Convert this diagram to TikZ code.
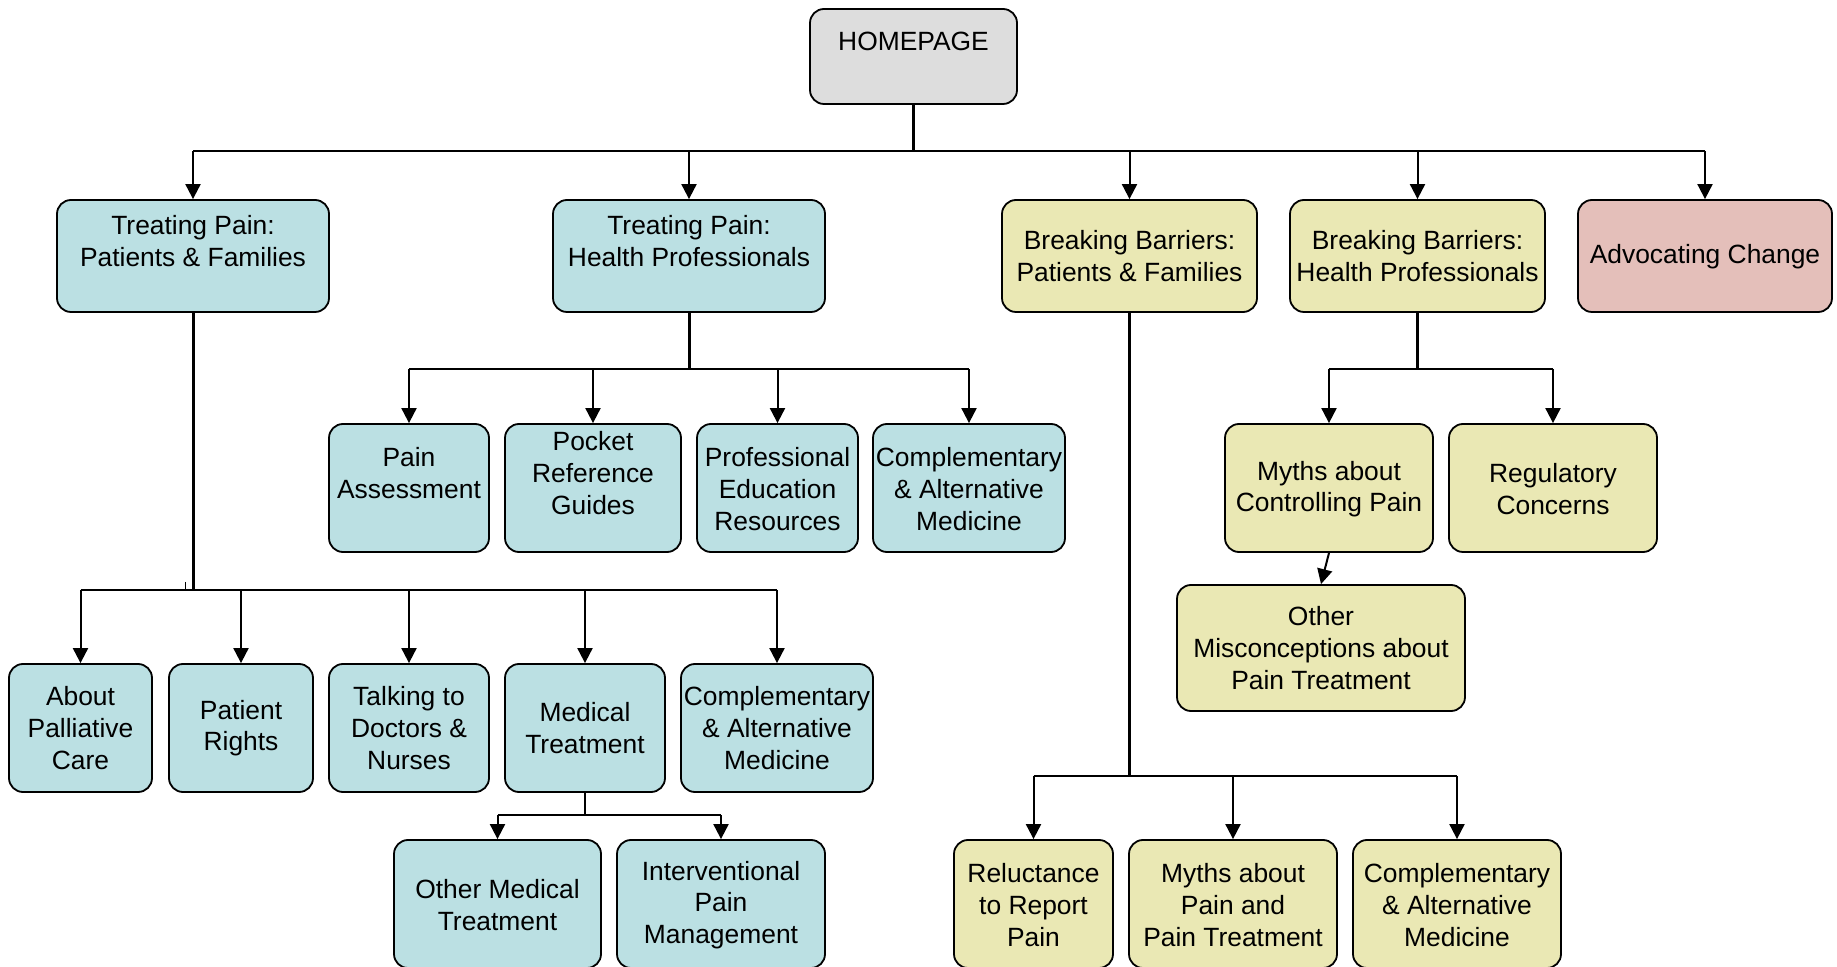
\documentclass[tikz,border=0pt]{standalone}
\usepackage{fontspec}
\setmainfont{Liberation Sans}
\usetikzlibrary{arrows.meta}
\definecolor{tealbox}{RGB}{187,224,227}
\definecolor{yellowbox}{RGB}{234,232,180}
\definecolor{pinkbox}{RGB}{228,191,186}
\definecolor{graybox}{RGB}{221,221,221}
\newcommand{\mkbox}[8]{%
  \node[box,fill=#2,minimum width=#5*0.5pt,minimum height=#6*0.5pt] (#1) at (#3,#4) {};
  \node[txt] (#1-t) at (#3,#7) {#8};}
\begin{document}
\begin{tikzpicture}[x=0.5pt,y=-0.5pt,
  box/.style={draw=black, line width=0.9pt, rounded corners=7pt, inner sep=0pt},
  txt/.style={align=center, font=\fontsize{13.2}{15.8}\selectfont, inner sep=0pt},
  arr/.style={line width=1pt, -{Triangle[length=7.5pt,width=7.5pt]}},
  ln/.style={line width=1pt},
  stem/.style={line width=1.5pt}]
\useasboundingbox (0,0) rectangle (1837,967);
\clip (0,0) rectangle (1837,967);

% top
\mkbox{home}{graybox}{913.5}{56.5}{207}{95}{41}{HOMEPAGE}
\mkbox{tppf}{tealbox}{193}{256}{272}{112}{241}{Treating Pain:\\Patients \& Families}
\mkbox{tphp}{tealbox}{689}{256}{272}{112}{241}{Treating Pain:\\Health Professionals}
\mkbox{bbpf}{yellowbox}{1129.5}{256}{255}{112}{256}{Breaking Barriers:\\Patients \& Families}
\mkbox{bbhp}{yellowbox}{1417.5}{256}{255}{112}{256}{Breaking Barriers:\\Health Professionals}
\mkbox{ac}{pinkbox}{1705}{256}{254}{112}{257}{Advocating Change}

% row 2
\mkbox{pa}{tealbox}{409}{488}{160}{128}{473}{Pain\\Assessment}
\mkbox{prg}{tealbox}{593}{488}{176}{128}{473}{Pocket\\Reference\\Guides}
\mkbox{per}{tealbox}{777.5}{488}{161}{128}{489}{Professional\\Education\\Resources}
\mkbox{cam1}{tealbox}{969}{488}{192}{128}{489}{Complementary\\\& Alternative\\Medicine}
\mkbox{mcp}{yellowbox}{1329}{488}{208}{128}{489}{Myths about\\Controlling Pain}
\mkbox{rc}{yellowbox}{1553}{488}{208}{128}{489}{Regulatory\\Concerns}
\mkbox{om}{yellowbox}{1321}{648}{288}{126}{648}{Other\\Misconceptions about\\Pain Treatment}

% row 3
\mkbox{apc}{tealbox}{80.5}{728}{143}{128}{728}{About\\Palliative\\Care}
\mkbox{pr}{tealbox}{241}{728}{144}{128}{728}{Patient\\Rights}
\mkbox{tdn}{tealbox}{409}{728}{160}{128}{728}{Talking to\\Doctors \&\\Nurses}
\mkbox{mt}{tealbox}{585}{728}{160}{128}{728}{Medical\\Treatment}
\mkbox{cam2}{tealbox}{777}{728}{192}{128}{728}{Complementary\\\& Alternative\\Medicine}

% row 4
\mkbox{omt}{tealbox}{497.5}{904}{207}{128}{905}{Other Medical\\Treatment}
\mkbox{ipm}{tealbox}{721}{904}{208}{128}{905}{Interventional\\Pain\\Management}
\mkbox{rrp}{yellowbox}{1033.5}{904}{159}{128}{905}{Reluctance\\to Report\\Pain}
\mkbox{mppt}{yellowbox}{1233}{904}{208}{128}{905}{Myths about\\Pain and\\Pain Treatment}
\mkbox{cam3}{yellowbox}{1457}{904}{208}{128}{905}{Complementary\\\& Alternative\\Medicine}

% bus coordinates
\coordinate (b0) at (913.5,151);
\coordinate (b1) at (689,369);
\coordinate (b2) at (1417.5,369);
\coordinate (b3) at (193,590);
\coordinate (b4) at (585,815);
\coordinate (b5) at (1129.5,776);
\coordinate (tick) at (185,582);

% homepage level
\draw[stem] (home) -- (b0);
\draw[ln] (b0 -| tppf) -- (b0 -| ac);
\foreach \n in {tppf,tphp,bbpf,bbhp,ac} \draw[arr] (b0 -| \n) -- (\n.north);

% treating pain: health professionals
\draw[stem] (tphp) -- (b1);
\draw[ln] (b1 -| pa) -- (b1 -| cam1);
\foreach \n in {pa,prg,per,cam1} \draw[arr] (b1 -| \n) -- (\n.north);

% breaking barriers: health professionals
\draw[stem] (bbhp) -- (b2);
\draw[ln] (b2 -| mcp) -- (b2 -| rc);
\foreach \n in {mcp,rc} \draw[arr] (b2 -| \n) -- (\n.north);
\draw[arr] (mcp.south) -- (om.north);

% treating pain: patients & families
\draw[stem] (tppf) -- (b3);
\draw[line width=0.8pt] (b3 -| apc) -- (b3);
\draw[line width=1.2pt] (b3) -- (b3 -| cam2);
\draw[line width=0.5pt] (tick) -- (tick |- b3);
\foreach \n in {apc,pr,tdn,mt,cam2} \draw[arr] (b3 -| \n) -- (\n.north);

% medical treatment
\draw[ln] (mt) -- (b4);
\draw[ln] (b4 -| omt) -- (b4 -| ipm);
\foreach \n in {omt,ipm} \draw[arr] (b4 -| \n) -- (\n.north);

% breaking barriers: patients & families
\draw[stem] (bbpf) -- (b5);
\draw[ln] (b5 -| rrp) -- (b5 -| cam3);
\foreach \n in {rrp,mppt,cam3} \draw[arr] (b5 -| \n) -- (\n.north);
\end{tikzpicture}
\end{document}
